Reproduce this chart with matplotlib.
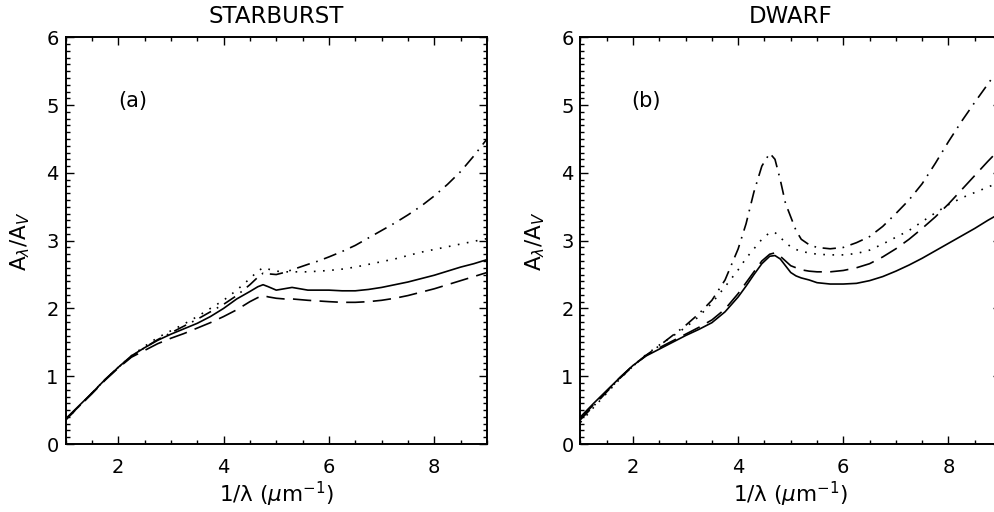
import matplotlib
matplotlib.use("Agg")
import matplotlib.pyplot as plt
from matplotlib.ticker import MultipleLocator

plt.rcParams['font.family'] = ['DejaVu Sans']
plt.rcParams['mathtext.fontset'] = 'dejavusans'

# ---------------- data: STARBURST (panel a) ----------------
x_sb = [1.0, 1.25, 1.5, 1.75, 2.0, 2.25, 2.5, 2.75, 3.0, 3.25, 3.5, 3.75, 4.0, 4.25, 4.5,
        4.65, 4.75, 4.85, 5.0, 5.15, 5.3, 5.45, 5.6, 5.8, 6.0, 6.25, 6.5, 6.75, 7.0, 7.25,
        7.5, 7.75, 8.0, 8.25, 8.5, 8.75, 9.0]
sb_solid = [0.37, 0.56, 0.75, 0.95, 1.13, 1.30, 1.42, 1.53, 1.62, 1.70, 1.78, 1.88, 2.00, 2.14, 2.25,
            2.32, 2.35, 2.32, 2.27, 2.29, 2.31, 2.29, 2.27, 2.27, 2.27, 2.26, 2.26, 2.28, 2.31, 2.35,
            2.39, 2.44, 2.49, 2.55, 2.61, 2.66, 2.72]
sb_dashed = [0.36, 0.55, 0.74, 0.94, 1.12, 1.28, 1.38, 1.48, 1.56, 1.63, 1.71, 1.79, 1.88, 1.98, 2.10,
             2.16, 2.19, 2.17, 2.15, 2.14, 2.14, 2.13, 2.12, 2.11, 2.10, 2.09, 2.09, 2.10, 2.12, 2.15,
             2.19, 2.24, 2.29, 2.35, 2.41, 2.47, 2.53]
sb_dotted = [0.35, 0.55, 0.75, 0.95, 1.13, 1.30, 1.44, 1.57, 1.67, 1.77, 1.88, 2.00, 2.12, 2.27, 2.44,
             2.55, 2.60, 2.58, 2.55, 2.54, 2.54, 2.54, 2.54, 2.55, 2.56, 2.58, 2.61, 2.65, 2.69, 2.73,
             2.78, 2.83, 2.87, 2.91, 2.95, 2.99, 3.03]
sb_dashdot = [0.35, 0.55, 0.75, 0.95, 1.13, 1.29, 1.42, 1.54, 1.64, 1.74, 1.84, 1.95, 2.06, 2.19, 2.35,
              2.46, 2.52, 2.51, 2.50, 2.53, 2.57, 2.61, 2.65, 2.70, 2.76, 2.84, 2.93, 3.04, 3.15, 3.26,
              3.38, 3.51, 3.66, 3.83, 4.02, 4.25, 4.50]

# ---------------- data: DWARF (panel b) ----------------
x_dw = [1.0, 1.25, 1.5, 1.75, 2.0, 2.25, 2.5, 2.75, 3.0, 3.25, 3.5, 3.75, 4.0, 4.15, 4.3, 4.45,
        4.6, 4.7, 4.8, 4.9, 5.0, 5.1, 5.2, 5.35, 5.5, 5.75, 6.0, 6.25, 6.5, 6.75, 7.0, 7.25,
        7.5, 7.75, 8.0, 8.25, 8.5, 8.75, 9.0]
dw_solid = [0.40, 0.60, 0.79, 0.98, 1.16, 1.30, 1.40, 1.50, 1.60, 1.69, 1.79, 1.95, 2.17, 2.33, 2.50, 2.66,
            2.77, 2.78, 2.73, 2.63, 2.53, 2.48, 2.45, 2.42, 2.38, 2.36, 2.36, 2.37, 2.41, 2.47, 2.55, 2.64,
            2.74, 2.85, 2.96, 3.07, 3.18, 3.30, 3.41]
dw_dashed = [0.38, 0.58, 0.78, 0.98, 1.16, 1.31, 1.42, 1.52, 1.62, 1.72, 1.83, 1.99, 2.22, 2.38, 2.54, 2.70,
             2.80, 2.82, 2.77, 2.70, 2.63, 2.60, 2.57, 2.55, 2.54, 2.54, 2.56, 2.60, 2.66, 2.76, 2.88, 3.02,
             3.18, 3.35, 3.54, 3.75, 3.96, 4.17, 4.37]
dw_dotted = [0.32, 0.54, 0.75, 0.96, 1.15, 1.32, 1.46, 1.59, 1.72, 1.88, 2.08, 2.32, 2.57, 2.74, 2.88, 3.02,
             3.12, 3.12, 3.05, 2.97, 2.91, 2.87, 2.84, 2.82, 2.80, 2.79, 2.79, 2.81, 2.86, 2.95, 3.05, 3.15,
             3.28, 3.41, 3.53, 3.63, 3.71, 3.79, 3.87]
dw_dashdot = [0.36, 0.56, 0.77, 0.97, 1.15, 1.31, 1.45, 1.60, 1.75, 1.92, 2.12, 2.42, 2.88, 3.25, 3.72, 4.10,
              4.29, 4.20, 3.90, 3.55, 3.35, 3.15, 3.02, 2.94, 2.90, 2.88, 2.90, 2.97, 3.06, 3.21, 3.40, 3.60,
              3.84, 4.14, 4.46, 4.76, 5.04, 5.31, 5.58]

titles = ["STARBURST", "DWARF"]
panel_labels = ["(a)", "(b)"]
xlabel = r"1/λ ($\mu$m$^{-1}$)"
ylabel = r"A$_\lambda$/A$_V$"

W, H = 995, 512
fig = plt.figure(figsize=(W / 100, H / 100), dpi=100)

def px_axes(l, r, t, b):
    return [l / W, (H - b) / H, (r - l) / W, (b - t) / H]

ax1 = fig.add_axes(px_axes(65.5, 487, 37.3, 444))
ax2 = fig.add_axes(px_axes(580.5, 1001, 37.3, 444))

styles = {
    'solid': dict(linestyle='-'),
    'dashed': dict(linestyle=(0, (11, 5))),
    'dotted': dict(linestyle=(0, (1, 4.5))),
    'dashdot': dict(linestyle=(0, (8, 4, 1, 4))),
}

panels = [
    (ax1, x_sb, [sb_solid, sb_dashed, sb_dotted, sb_dashdot]),
    (ax2, x_dw, [dw_solid, dw_dashed, dw_dotted, dw_dashdot]),
]

for i, (ax, xs, series) in enumerate(panels):
    for ys, key in zip(series, ['solid', 'dashed', 'dotted', 'dashdot']):
        ax.plot(xs, ys, color='black', lw=1.2, **styles[key])
    ax.set_xlim(1, 9)
    ax.set_ylim(0, 6)
    ax.xaxis.set_major_locator(MultipleLocator(2))
    ax.xaxis.set_minor_locator(MultipleLocator(0.5))
    ax.yaxis.set_major_locator(MultipleLocator(1))
    ax.yaxis.set_minor_locator(MultipleLocator(0.1))
    ax.tick_params(which='both', direction='in', top=True, right=True, width=1.0, labelsize=14)
    ax.tick_params(axis='x', which='major', pad=10)
    ax.tick_params(axis='y', which='major', pad=5)
    ax.tick_params(which='major', length=6)
    ax.tick_params(which='minor', length=3)
    ax.set_xticks([2, 4, 6, 8])
    for s in ax.spines.values():
        s.set_linewidth(1.4)
    ax.set_title(titles[i], fontsize=16.5, pad=10)
    ax.set_xlabel(xlabel, fontsize=15.5, labelpad=2)
    ax.set_ylabel(ylabel, fontsize=15.5, labelpad=10)
    ax.text(2.27 if i == 0 else 2.24, 5.06, panel_labels[i], fontsize=15, ha='center', va='center')

fig.savefig("out.png", dpi=100)
